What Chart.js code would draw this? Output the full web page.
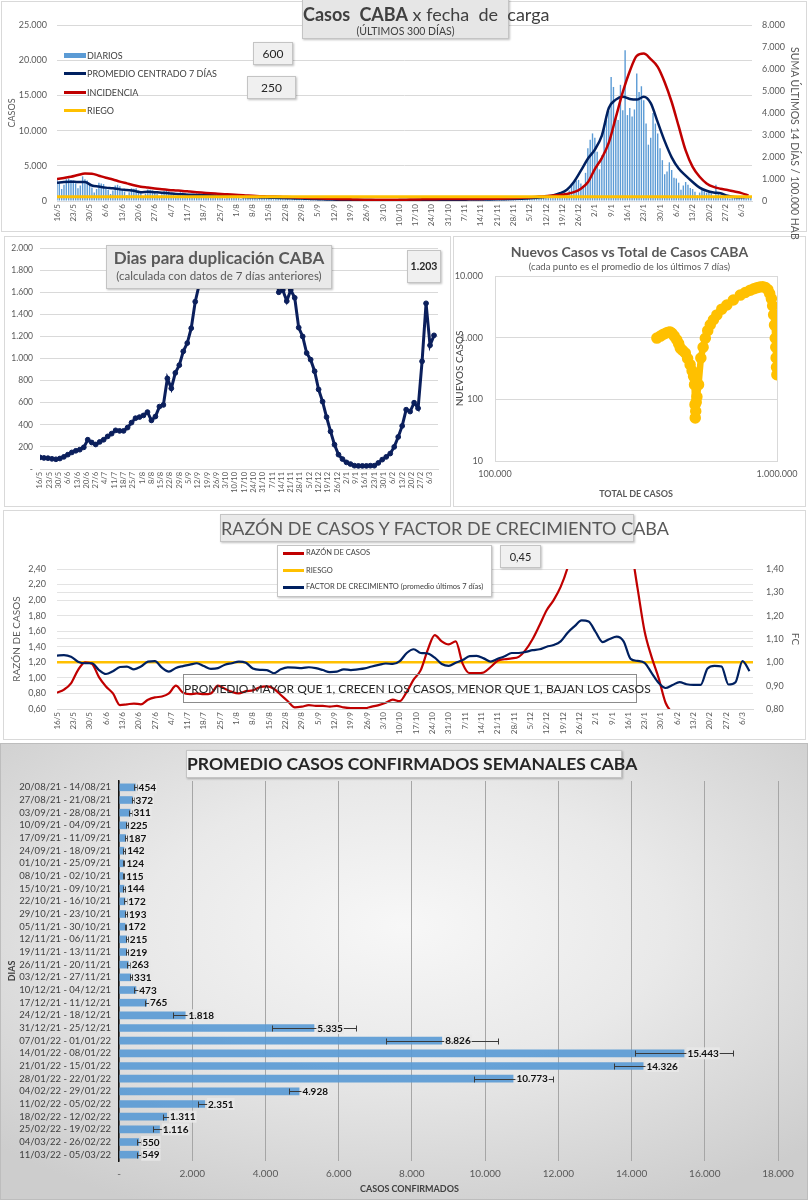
<!DOCTYPE html>
<html><head><meta charset="utf-8">
<script src="https://cdn.jsdelivr.net/npm/chart.js@4.4.1/dist/chart.umd.min.js"></script>
<style>
html,body{margin:0;padding:0;background:#fff}
#page{position:relative;width:808px;height:1200px;overflow:hidden;font-family:Lato,'Open Sans',sans-serif}
.panel{position:absolute;box-sizing:border-box;border:1px solid #d9d9d9;background:#fff;z-index:0}
canvas{position:absolute;z-index:1}
.box{position:absolute;box-sizing:border-box;background:#e9e9e9;border:1px solid #c4c4c4;box-shadow:1px 1px 2px rgba(0,0,0,.25);text-align:center;color:#595959;z-index:2;white-space:nowrap}
.t{position:absolute;z-index:2;white-space:nowrap}
.sw{position:absolute;z-index:2}
</style>
</head><body><div id="page">
<div class="panel" style="left:1px;top:1px;width:806px;height:231px"></div>
<div class="panel" style="left:4px;top:236px;width:447px;height:271px"></div>
<div class="panel" style="left:453px;top:236px;width:353px;height:271px"></div>
<div class="panel" style="left:3px;top:510px;width:803px;height:230px"></div>
<div class="panel" style="left:0px;top:743px;width:808px;height:457px;border-color:#bdbdbd;background:radial-gradient(ellipse 72% 68% at 50% 40%,#f7f7f7 0%,#e9e9e9 45%,#cdcdcd 100%)"></div>

<!-- top chart overlays -->
<div class="box" style="left:302px;top:-1px;width:207px;height:40px;background:#e6e6e6">
 <div style="font-size:18px;line-height:22px;margin-top:3px;color:#404040"><b>Casos</b>&nbsp; <b>CABA</b> x fecha&nbsp; de&nbsp; carga</div>
 <div style="font-size:10.5px;line-height:12px;color:#404040">(ÚLTIMOS 300 DÍAS)</div>
</div>
<div class="t" style="left:789px;top:47px;writing-mode:vertical-rl;font-size:10.5px;color:#595959">SUMA ÚLTIMOS 14 DÍAS / 100.000 HAB</div>
<div class="sw" style="left:64px;top:53px;width:22px;height:5px;background:#5B9BD5"></div>
<div class="t" style="left:87px;top:50px;font-size:9px;color:#404040">DIARIOS</div>
<div class="sw" style="left:64px;top:72px;width:22px;height:3px;background:#002060"></div>
<div class="t" style="left:87px;top:68px;font-size:9px;color:#404040">PROMEDIO CENTRADO 7 DÍAS</div>
<div class="sw" style="left:64px;top:91px;width:22px;height:3px;background:#C00000"></div>
<div class="t" style="left:87px;top:87px;font-size:9px;color:#404040">INCIDENCIA</div>
<div class="sw" style="left:64px;top:109px;width:22px;height:3px;background:#FFC000"></div>
<div class="t" style="left:87px;top:105px;font-size:9px;color:#404040">RIEGO</div>
<div class="box" style="left:253px;top:42px;width:40px;height:23px;background:#f0f0f0;font-size:12px;line-height:21px;color:#262626">600</div>
<div class="box" style="left:247px;top:76px;width:49px;height:23px;background:#f0f0f0;font-size:12px;line-height:21px;color:#262626">250</div>

<!-- doubling overlays -->
<div class="box" style="left:106px;top:245px;width:226px;height:44px">
 <div style="font-size:17px;font-weight:bold;line-height:20px;margin-top:2px">Dias para duplicación CABA</div>
 <div style="font-size:11.5px;line-height:16px">(calculada con datos de 7 días anteriores)</div>
</div>
<div class="box" style="left:407px;top:250px;width:34px;height:33px;background:#f0f0f0;font-size:10.5px;font-weight:bold;line-height:31px;color:#262626">1.203</div>

<!-- scatter overlays -->
<div class="t" style="left:453px;width:353px;top:243px;text-align:center;font-size:14px;font-weight:bold;color:#595959">Nuevos Casos vs Total de Casos CABA</div>
<div class="t" style="left:453px;width:353px;top:261px;text-align:center;font-size:9.5px;color:#595959">(cada punto es el promedio de los últimos 7 días)</div>

<!-- razon overlays -->
<div class="box" style="left:220px;top:514px;width:414px;height:28px;font-size:18px;line-height:26px;color:#595959">RAZÓN DE CASOS Y FACTOR DE CRECIMIENTO CABA</div>
<div class="box" style="left:277px;top:545px;width:215px;height:52px;background:#fff;text-align:left"></div>
<div class="sw" style="left:283px;top:552px;width:21px;height:3px;background:#C00000;z-index:3"></div>
<div class="t" style="left:306px;top:548px;font-size:7.5px;color:#404040;z-index:3">RAZÓN DE CASOS</div>
<div class="sw" style="left:283px;top:569px;width:21px;height:3px;background:#FFC000;z-index:3"></div>
<div class="t" style="left:306px;top:566px;font-size:7.5px;color:#404040;z-index:3">RIESGO</div>
<div class="sw" style="left:283px;top:586px;width:21px;height:3px;background:#002060;z-index:3"></div>
<div class="t" style="left:306px;top:582px;font-size:7.5px;color:#404040;z-index:3">FACTOR DE CRECIMIENTO (promedio últimos 7 días)</div>
<div class="box" style="left:500px;top:545px;width:41px;height:23px;background:#f0f0f0;font-size:11px;line-height:21px;color:#262626">0,45</div>
<div class="box" style="left:183px;top:674px;width:454px;height:29px;background:transparent;border-color:#8c8c8c;box-shadow:none;font-size:12px;line-height:27px;color:#262626">PROMEDIO MAYOR QUE 1, CRECEN LOS CASOS, MENOR QUE 1, BAJAN LOS CASOS</div>

<!-- bar chart overlays -->
<div class="box" style="left:186px;top:750px;width:436px;height:28px;background:#f2f2f2;font-size:17.5px;font-weight:bold;line-height:26px;color:#262626">PROMEDIO CASOS CONFIRMADOS SEMANALES CABA</div>
<div class="t" style="left:360px;top:1183px;font-size:9px;font-weight:bold;color:#404040">CASOS CONFIRMADOS</div>
</div>

<script>
// ---------------- DATA ----------------
const weekTicks = ['16/5','23/5','30/5','6/6','13/6','20/6','27/6','4/7','11/7','18/7','25/7','1/8','8/8','15/8','22/8','29/8','5/9','12/9','19/9','26/9','3/10','10/10','17/10','24/10','31/10','7/11','14/11','21/11','28/11','5/12','12/12','19/12','26/12','2/1','9/1','16/1','23/1','30/1','6/2','13/2','20/2','27/2','6/3'];

// daily new cases (one value per day, from 16/5)
const diarios = [
3000,2600,1700,2300,3100,3200,3000, 2900,2500,1800,2200,3500,3100,2900,
2400,1900,1200,1700,2600,2500,2400, 2000,1600,1000,1500,2200,2300,2100,
1700,1350,850,1250,1800,1750,1800, 1500,1150,700,1050,1650,1600,1500,
1400,1050,650,950,1450,1500,1400, 1150,900,550,800,1250,1200,1150,
1050,800,500,700,1100,1150,1050, 920,720,440,640,980,960,940,
750,590,360,520,800,780,760, 630,500,300,440,680,660,650,
575,450,275,400,620,600,590, 520,410,250,360,560,545,530,
430,335,205,300,460,445,430, 360,280,170,250,385,375,360,
260,200,125,180,280,270,260, 215,170,105,150,230,225,215,
165,130,80,115,175,170,160, 145,110,70,100,155,150,140,
130,105,65,90,145,140,130, 165,130,80,115,180,175,165,
200,155,95,140,210,205,200, 220,175,105,155,235,230,230,
200,155,95,140,210,205,200, 245,195,120,170,265,260,250,
250,195,120,175,270,265,260, 300,235,145,210,320,315,315,
380,300,180,265,410,400,385, 545,425,260,380,580,570,555,
880,690,420,610,940,920,905, 1300,1200,900,1500,2300,2600,2900,
3000,2500,2000,4000,7500,8700,9600, 9000,7000,4500,6500,10500,11500,12800,
17600,16200,12000,11500,16500,12900,21400, 12200,13200,12000,13000,18100,15500,16300,
14300,11000,8000,9000,12500,11000,9600, 7500,5800,3800,4200,5500,4400,3300,
3200,2600,1600,2200,2700,2300,1850, 1700,1300,800,1200,1600,1400,1180,
1300,1100,700,2300,1000,800,610, 700,550,350,500,650,600,500,
650,550,350,500,700,600];

// series sampled every 3 days (day 0, 3, 6, ...)
const promedio7 = [2600,2700,2750,2700,2700,2200,2050,1900,1800,1650,
1550,1450,1250,1320,1250,1180,1100,1000,950,900,
870,830,800,760,700,640,590,560,530,500,
480,460,440,400,370,340,310,280,240,220,
195,185,165,145,135,125,122,118,115,125,
140,155,168,178,190,192,185,172,185,205,
215,218,220,235,262,290,320,360,420,480,
600,800,1100,1600,2700,4300,6000,7300,9300,13200,
14400,14800,14500,14400,14800,13900,11200,8500,6200,4600,
3600,2700,1900,1450,1200,1100,750,580,550,560];

const incidencia = [1000,1050,1100,1180,1250,1240,1150,1060,980,880,
800,720,650,610,570,530,500,480,460,430,
400,375,350,330,310,290,275,255,235,220,
210,200,190,180,165,150,140,125,110,100,
90,82,74,66,60,56,54,54,56,58,
62,68,73,78,82,86,87,86,86,88,
92,96,100,106,114,124,138,155,175,200,
220,250,270,320,400,560,850,1450,1950,2650,
3800,4950,5900,6600,6700,6450,6100,5400,4500,3400,
2300,1550,1100,800,640,560,500,430,360,250];

const riesgoCasos = 600;

const diasDuplicacion = [105,100,98,92,88,95,110,130,150,165,
175,196,265,240,222,245,265,295,320,350,
345,345,375,420,460,470,485,515,440,475,
565,580,820,730,870,940,1065,1140,1275,1515,
1670,2050,2600,3000,3400,3800,4200,4500,4800,5000,
5200,5000,4800,4500,4200,3800,3400,3000,2600,1800,
1600,1620,1520,1620,1550,1280,1200,1050,990,885,
720,610,470,340,220,130,90,60,45,30,
28,28,28,30,30,55,85,110,140,200,
290,390,537,520,600,550,975,1500,1120,1210];

const totalCasos = [375000,386000,396000,405000,412000,418000,424000,432000,441000,448000,
454000,463000,473000,482000,492000,500000,506000,510000,512000,513000,
515000,517000,520000,527000,537000,547000,557000,568000,580000,595000,
612000,637000,664000,700000,741000,772000,804000,828000,849000,870000,
890000,910000,928000,942000,955000,965000,973000,980000,986000,990000,
993000,996000,999000];
const nuevosCasos = [984,1060,1140,1190,1228,1230,1180,1060,925,800,
678,620,563,460,365,290,236,173,82,50,
64,90,110,173,467,700,980,1300,1620,1950,
2340,2900,3390,4090,4900,5400,5900,6200,6470,6650,
6700,6500,6000,5200,4300,3300,2350,1600,980,700,
470,330,250];

const razonCasos = [0.81,0.85,0.93,1.10,1.20,1.18,1.01,0.89,0.80,0.65,
0.66,0.67,0.66,0.72,0.75,0.76,0.80,0.90,0.81,0.79,
0.80,0.79,0.80,0.90,0.86,0.82,0.80,0.83,0.84,0.88,
0.89,0.86,0.78,0.70,0.62,0.63,0.65,0.64,0.64,0.63,
0.64,0.62,0.61,0.61,0.61,0.63,0.65,0.68,0.72,0.70,
0.82,0.98,1.10,1.36,1.55,1.47,1.43,1.47,1.18,1.06,
1.06,1.07,1.14,1.22,1.24,1.25,1.27,1.36,1.50,1.68,
1.87,2.00,2.17,2.42,2.8,3.2,3.6,3.9,4.0,3.8,
3.4,3.0,2.7,2.15,1.6,1.27,1.0,0.68,0.55,0.48,
0.42,0.40,0.40,0.42,0.45,0.48,0.45,0.42,0.44,0.45];
const riesgoRazon = 1.2;

const factorCrecimiento = [1.029,1.031,1.024,1.003,0.996,0.996,0.967,0.95,0.962,0.98,
0.982,0.97,0.982,1.003,1.005,0.977,0.96,0.976,0.984,0.99,
0.996,0.984,0.972,0.975,0.99,0.996,1.003,0.998,0.974,0.968,
0.967,0.953,0.97,0.978,0.977,0.975,0.979,0.975,0.967,0.958,
0.96,0.97,0.967,0.97,0.974,0.982,0.989,0.995,0.993,1.005,
1.04,1.056,1.04,1.038,1.02,0.993,0.985,0.998,1.01,1.027,
1.028,1.017,1.003,1.015,1.026,1.04,1.04,1.045,1.052,1.056,
1.067,1.074,1.09,1.127,1.155,1.18,1.175,1.13,1.087,1.10,
1.11,1.09,1.015,1.006,0.998,0.955,0.912,0.89,0.903,0.915,
0.906,0.903,0.903,0.974,0.985,0.982,0.905,0.915,1.005,0.962];

const semanas = ['20/08/21 - 14/08/21','27/08/21 - 21/08/21','03/09/21 - 28/08/21','10/09/21 - 04/09/21','17/09/21 - 11/09/21','24/09/21 - 18/09/21','01/10/21 - 25/09/21','08/10/21 - 02/10/21','15/10/21 - 09/10/21','22/10/21 - 16/10/21','29/10/21 - 23/10/21','05/11/21 - 30/10/21','12/11/21 - 06/11/21','19/11/21 - 13/11/21','26/11/21 - 20/11/21','03/12/21 - 27/11/21','10/12/21 - 04/12/21','17/12/21 - 11/12/21','24/12/21 - 18/12/21','31/12/21 - 25/12/21','07/01/22 - 01/01/22','14/01/22 - 08/01/22','21/01/22 - 15/01/22','28/01/22 - 22/01/22','04/02/22 - 29/01/22','11/02/22 - 05/02/22','18/02/22 - 12/02/22','25/02/22 - 19/02/22','04/03/22 - 26/02/22','11/03/22 - 05/03/22'];
const promedioSemanal = [454,372,311,225,187,142,124,115,144,172,193,172,215,219,263,331,473,765,1818,5335,8826,15443,14326,10773,4928,2351,1311,1116,550,549];
const errorSemanal = [40,25,35,30,25,20,15,15,30,35,25,20,25,25,40,30,60,50,350,1150,1520,1340,800,1070,280,190,100,200,60,60];

// ---------------- HELPERS ----------------
const STEP = 3;
function fmt(v){const s=Math.round(Math.abs(v)).toString().replace(/\B(?=(\d{3})+(?!\d))/g,'.');return (v<0?'-':'')+s;}
function comma(v,d){return v.toFixed(d).replace('.',',');}
function daily(arr){return arr.map((v,i)=>({x:i,y:v}));}
function stepped(arr){return arr.map((v,i)=>({x:i*STEP,y:v}));}
function mkCanvas(left,top,w,h){
  const c=document.createElement('canvas');c.width=w;c.height=h;
  c.style.left=left+'px';c.style.top=top+'px';c.style.width=w+'px';c.style.height=h+'px';
  document.getElementById('page').appendChild(c);return c;
}
Chart.defaults.font.family="Lato, 'Open Sans', sans-serif";
Chart.defaults.color='#595959';
Chart.defaults.animation=false;
Chart.defaults.plugins.legend.display=false;
Chart.defaults.plugins.tooltip.enabled=false;
const base={responsive:false,maintainAspectRatio:false,animation:false,devicePixelRatio:1};

function weekAxis(maxDay,h,fs){
  return {type:'linear',min:0,max:maxDay,offset:false,
    afterBuildTicks:s=>{s.ticks=weekTicks.map((t,i)=>({value:i*7}));},
    afterFit:s=>{s.height=h;},
    ticks:{autoSkip:false,maxRotation:90,minRotation:90,padding:3,font:{size:fs},color:'#595959',callback:(v,i)=>weekTicks[i]},
    grid:{display:false,drawTicks:false},border:{display:true,color:'#d9d9d9'}};
}
const DOMAIN = 298.5;

// ---------------- CHART 1: Casos CABA ----------------
new Chart(mkCanvas(0,0,808,232),{
  type:'line',
  data:{datasets:[
    {label:'RIEGO',data:[{x:0,y:riesgoCasos},{x:DOMAIN,y:riesgoCasos}],yAxisID:'y',borderColor:'#FFC000',borderWidth:3,pointRadius:0,order:0},
    {label:'INCIDENCIA',data:stepped(incidencia),yAxisID:'y2',borderColor:'#C00000',borderWidth:2.5,pointRadius:0,cubicInterpolationMode:'monotone',order:1},
    {label:'PROMEDIO CENTRADO 7 DÍAS',data:stepped(promedio7),yAxisID:'y',borderColor:'#002060',borderWidth:2.5,pointRadius:0,cubicInterpolationMode:'monotone',order:2},
    {type:'bar',label:'DIARIOS',data:daily(diarios),yAxisID:'y',backgroundColor:'#5B9BD5',barPercentage:0.6,categoryPercentage:1,order:3}
  ]},
  options:{...base,
    layout:{padding:{top:25,left:0,right:0,bottom:0}},
    scales:{
      x:weekAxis(DOMAIN,31,8),
      y:{position:'left',min:0,max:25000,afterFit:s=>{s.width=57;},
         ticks:{stepSize:5000,padding:10,font:{size:9},color:'#595959',callback:v=>v===0?'0':fmt(v)},
         grid:{color:'#d9d9d9',drawTicks:false},border:{display:false},
         title:{display:true,text:'CASOS',font:{size:9},color:'#595959',padding:{top:7,bottom:0}}},
      y2:{position:'right',min:0,max:8000,afterFit:s=>{s.width=56;},
         ticks:{stepSize:1000,padding:10,font:{size:9},color:'#595959',callback:v=>v===0?'0':fmt(v)},
         grid:{display:false,drawTicks:false},border:{display:false}}
    }}
});

// ---------------- CHART 2: Dias para duplicacion ----------------
new Chart(mkCanvas(4,236,446,271),{
  type:'line',
  data:{datasets:[{label:'Dias para duplicación',data:stepped(diasDuplicacion),borderColor:'#0B1F5C',backgroundColor:'#0B1F5C',
    pointBackgroundColor:'#0B1F5C',pointBorderColor:'#0B1F5C',pointRadius:2.4,pointBorderWidth:1,borderWidth:3}]},
  options:{...base,
    layout:{padding:{top:12,right:12,left:0,bottom:0}},
    scales:{
      x:weekAxis(300,38,7.5),
      y:{min:0,max:2000,afterFit:s=>{s.width=36;},
         ticks:{stepSize:200,padding:7,font:{size:8.5},color:'#595959',callback:v=>v===0?'-':fmt(v)},
         grid:{color:'#d9d9d9',drawTicks:false},border:{display:false}}
    }}
});

// ---------------- CHART 3: Nuevos vs Total ----------------
new Chart(mkCanvas(453,236,353,271),{
  type:'scatter',
  data:{datasets:[{label:'Nuevos Casos',data:totalCasos.map((t,i)=>({x:t,y:nuevosCasos[i]})),showLine:true,
    borderColor:'#FFC000',backgroundColor:'#FFC000',pointBackgroundColor:'#FFC000',pointBorderColor:'#FFC000',
    pointRadius:2.5,borderWidth:6.5,borderCapStyle:'round',borderJoinStyle:'round'}]},
  options:{...base,
    layout:{padding:{top:40,right:29,left:0,bottom:0}},
    scales:{
      x:{type:'logarithmic',min:100000,max:1000000,afterFit:s=>{s.height=46;},
         afterBuildTicks:s=>{s.ticks=[{value:100000},{value:1000000}];},
         ticks:{padding:8,font:{size:9},color:'#595959',callback:v=>fmt(v),maxRotation:0},
         grid:{color:'#d9d9d9',drawTicks:false},border:{display:true,color:'#d9d9d9'},
         title:{display:true,text:'TOTAL DE CASOS',font:{size:9,weight:'bold'},color:'#595959',padding:{top:0,bottom:8}}},
      y:{type:'logarithmic',min:10,max:10000,afterFit:s=>{s.width=42;},
         afterBuildTicks:s=>{s.ticks=[{value:10},{value:100},{value:1000},{value:10000}];},
         ticks:{padding:12,font:{size:9},color:'#595959',callback:v=>fmt(v)},
         grid:{color:'#d9d9d9',drawTicks:false},border:{display:false},
         title:{display:true,text:'NUEVOS CASOS',font:{size:10},color:'#404040',padding:{top:1,bottom:0}}}
    }}
});

// ---------------- CHART 4: Razon de casos y FC ----------------
new Chart(mkCanvas(3,510,803,230),{
  type:'line',
  data:{datasets:[
    {label:'RIESGO',data:[{x:0,y:riesgoRazon},{x:DOMAIN,y:riesgoRazon}],yAxisID:'y',borderColor:'#FFC000',borderWidth:2.5,pointRadius:0,order:2},
    {label:'RAZÓN DE CASOS',data:stepped(razonCasos),yAxisID:'y',borderColor:'#C00000',borderWidth:2.2,pointRadius:0,cubicInterpolationMode:'monotone',order:1},
    {label:'FACTOR DE CRECIMIENTO',data:stepped(factorCrecimiento),yAxisID:'y1',borderColor:'#002060',borderWidth:2.2,pointRadius:0,cubicInterpolationMode:'monotone',order:0}
  ]},
  options:{...base,
    layout:{padding:{top:59,left:0,right:0,bottom:0}},
    scales:{
      x:weekAxis(DOMAIN,31,8),
      y:{position:'left',min:0.6,max:2.4,afterFit:s=>{s.width=54;},
         ticks:{stepSize:0.2,padding:11,font:{size:9},color:'#595959',callback:v=>comma(v,2)},
         grid:{color:'#e3e3e3',drawTicks:false},border:{display:false},
         title:{display:true,text:'RAZÓN DE CASOS',font:{size:10},color:'#595959',padding:{top:8,bottom:0}}},
      y1:{position:'right',min:0.8,max:1.4,afterFit:s=>{s.width=53;},
         ticks:{stepSize:0.1,padding:13,font:{size:9},color:'#595959',callback:v=>comma(v,2)},
         grid:{color:'#e3e3e3',drawTicks:false},border:{display:false},
         title:{display:true,text:'FC',font:{size:10},color:'#595959',padding:{top:5,bottom:0}}}
    }}
});

// ---------------- CHART 5: Promedio semanal ----------------
const errLabelPlugin={id:'errLabel',afterDatasetsDraw(chart){
  const ctx=chart.ctx, xs=chart.scales.x, meta=chart.getDatasetMeta(0);
  ctx.save();
  ctx.strokeStyle='#3a3a3a';ctx.lineWidth=1;
  meta.data.forEach((bar,i)=>{
    const v=promedioSemanal[i], e=errorSemanal[i], y=Math.round(bar.y)+0.5;
    const x1=Math.round(xs.getPixelForValue(v-e))+0.5, x2=Math.round(xs.getPixelForValue(v+e))+0.5;
    ctx.beginPath();ctx.moveTo(x1,y);ctx.lineTo(x2,y);
    ctx.moveTo(x1,y-3);ctx.lineTo(x1,y+3);ctx.moveTo(x2,y-3);ctx.lineTo(x2,y+3);ctx.stroke();
  });
  ctx.font="bold 10px Lato, 'Open Sans', sans-serif";ctx.textBaseline='middle';
  meta.data.forEach((bar,i)=>{
    const txt=fmt(promedioSemanal[i]);const w=ctx.measureText(txt).width;const tx=bar.x+3;
    ctx.fillStyle='rgba(232,232,232,0.9)';ctx.fillRect(tx-1,bar.y-6,w+2,12);
    ctx.fillStyle='#111';ctx.fillText(txt,tx,bar.y+0.5);
  });
  ctx.restore();
}};
new Chart(mkCanvas(0,743,808,457),{
  type:'bar',
  data:{labels:semanas,datasets:[{label:'Promedio',data:promedioSemanal,backgroundColor:'rgba(91,155,213,0.92)',barPercentage:0.6,categoryPercentage:1}]},
  options:{...base,indexAxis:'y',
    layout:{padding:{top:38,right:30,left:0,bottom:0}},
    scales:{
      x:{min:0,max:18000,afterFit:s=>{s.height=39;},
         ticks:{stepSize:2000,padding:7,font:{size:10},color:'#595959',callback:v=>v===0?'-':fmt(v)},
         grid:{color:'#a6a6a6',drawTicks:false},border:{display:false}},
      y:{afterFit:s=>{s.width=119;},
         ticks:{padding:8,font:{size:9.5},color:'#404040',autoSkip:false},
         grid:{display:false,drawTicks:false},border:{display:true,color:'#111',width:1.5},
         title:{display:true,text:'DIAS',font:{size:9,weight:'bold'},color:'#404040',padding:{top:7,bottom:0}}}
    }},
  plugins:[errLabelPlugin]
});
</script>
</body></html>
